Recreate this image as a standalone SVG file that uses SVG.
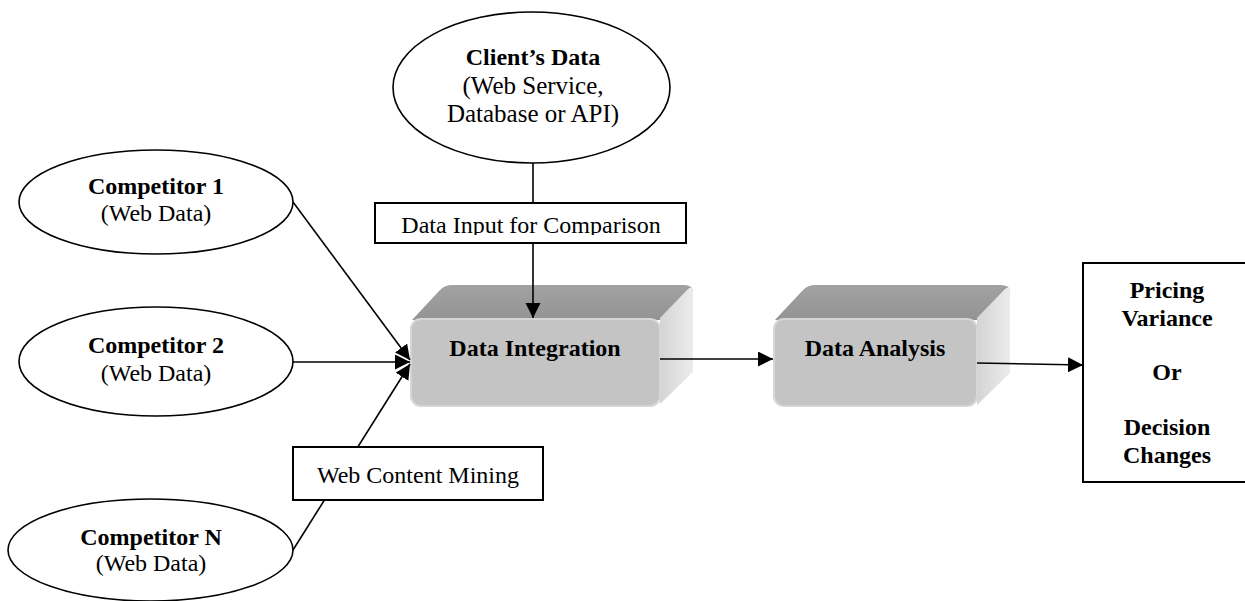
<svg xmlns="http://www.w3.org/2000/svg" width="1245" height="601" viewBox="0 0 1245 601">
<style>
.ell{fill:#fff;stroke:#000;stroke-width:1.6}
.box{fill:#fff;stroke:#000;stroke-width:2}
.t{font-family:"Liberation Serif","Times New Roman",serif;font-size:24px;fill:#000;text-anchor:middle}
.b{font-weight:bold}
.ln{stroke:#000;stroke-width:1.6;fill:none}
.front{fill:#c4c4c4;stroke:#d6d6d6;stroke-width:2}
</style>
<defs>
<marker id="ah" markerUnits="userSpaceOnUse" markerWidth="16" markerHeight="16" refX="15" refY="7.5" orient="auto">
<path d="M0,0 L15,7.5 L0,15 z" fill="#000"/>
</marker>
<linearGradient id="side" x1="0" y1="0" x2="1" y2="0">
<stop offset="0" stop-color="#d4d4d4"/>
<stop offset="1" stop-color="#ececec"/>
</linearGradient>
<linearGradient id="topg" x1="0" y1="0" x2="0" y2="1">
<stop offset="0" stop-color="#a2a2a2"/>
<stop offset="1" stop-color="#939393"/>
</linearGradient>
<clipPath id="clipInput"><rect x="375" y="203" width="311" height="32"/></clipPath>
</defs>

<g id="data-integration">
<path fill="url(#topg)" d="M412,320 L440,290 Q445,285 452,285 L684,285 Q693,285 693,292 L662,320 Z"/>
<path fill="url(#side)" d="M660,318 L688,289 Q693,285 693,293 L693,372 L660,404 Z"/>
<rect class="front" x="411" y="319" width="249" height="87" rx="10"/>
<text class="t b" x="535" y="356">Data Integration</text>
</g>

<g id="data-analysis">
<path fill="url(#topg)" d="M775,320 L803,290 Q808,285 815,285 L1001,285 Q1010,285 1010,292 L979,320 Z"/>
<path fill="url(#side)" d="M977,318 L1005,289 Q1010,285 1010,293 L1010,373 L977,405 Z"/>
<rect class="front" x="774" y="319" width="203" height="87" rx="10"/>
<text class="t b" x="875" y="356">Data Analysis</text>
</g>

<g id="connectors">
<line class="ln" x1="293" y1="202" x2="410" y2="360" marker-end="url(#ah)"/>
<line class="ln" x1="293" y1="362" x2="410" y2="362" marker-end="url(#ah)"/>
<line class="ln" x1="293" y1="550" x2="410" y2="364" marker-end="url(#ah)"/>
<line class="ln" x1="533" y1="163" x2="533" y2="203"/>
<line class="ln" x1="533" y1="243" x2="533" y2="318" marker-end="url(#ah)"/>
<line class="ln" x1="660" y1="359" x2="773" y2="359" marker-end="url(#ah)"/>
<line class="ln" x1="977" y1="363" x2="1083" y2="365" marker-end="url(#ah)"/>
</g>

<g id="client">
<ellipse class="ell" cx="531.5" cy="87.5" rx="138.5" ry="75.5"/>
<text class="t b" x="533" y="65">Client’s Data</text>
<text class="t" x="533" y="94" style="font-size:25px">(Web Service,</text>
<text class="t" x="533" y="122" style="font-size:25px">Database or API)</text>
</g>

<g id="data-input">
<rect class="box" x="375" y="203" width="311" height="40"/>
<text class="t" x="531" y="233" clip-path="url(#clipInput)">Data Input for Comparison</text>
</g>

<g id="competitor1">
<ellipse class="ell" cx="156" cy="202" rx="137" ry="52"/>
<text class="t b" x="156" y="194">Competitor 1</text>
<text class="t" x="156" y="221">(Web Data)</text>
</g>

<g id="competitor2">
<ellipse class="ell" cx="156" cy="361.5" rx="137" ry="54.5"/>
<text class="t b" x="156" y="353">Competitor 2</text>
<text class="t" x="156" y="381">(Web Data)</text>
</g>

<g id="competitorN">
<ellipse class="ell" cx="150.5" cy="550" rx="142.5" ry="51"/>
<text class="t b" x="151" y="545">Competitor N</text>
<text class="t" x="151" y="571">(Web Data)</text>
</g>

<g id="web-content-mining">
<rect class="box" x="293" y="447" width="250" height="53"/>
<text class="t" x="418" y="483">Web Content Mining</text>
</g>

<g id="pricing">
<rect class="box" x="1083" y="263" width="170" height="219"/>
<text class="t b" x="1167" y="298">Pricing</text>
<text class="t b" x="1167" y="326">Variance</text>
<text class="t b" x="1167" y="380">Or</text>
<text class="t b" x="1167" y="435">Decision</text>
<text class="t b" x="1167" y="463">Changes</text>
</g>
</svg>
